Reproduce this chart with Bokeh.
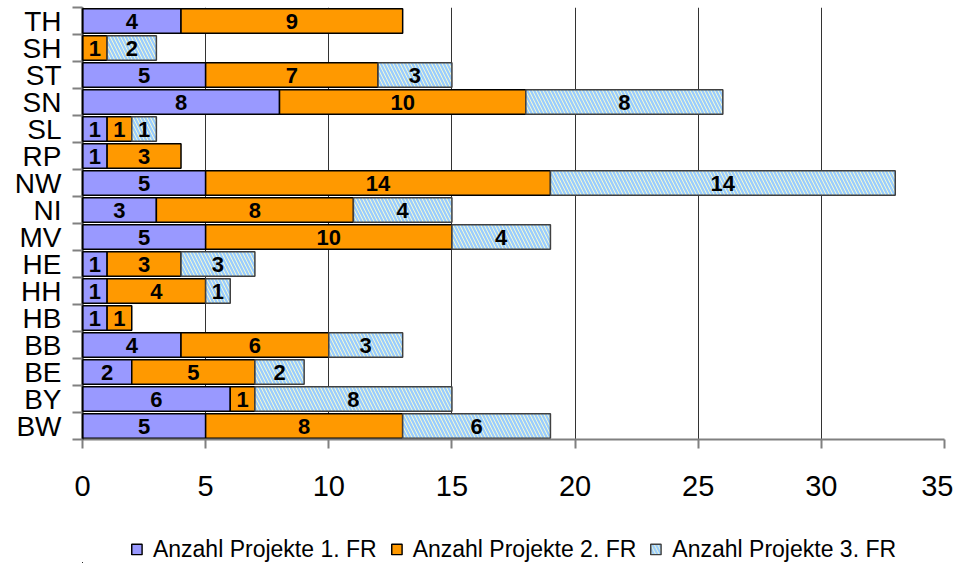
from bokeh.plotting import figure
from bokeh.layouts import column
from bokeh.models import (ColumnDataSource, Range1d, LinearAxis, FixedTicker, Legend, LegendItem)
from bokeh.core.properties import value
from bokeh.embed import file_html
from bokeh.resources import INLINE

# Data (bottom to top)
states = ["BW", "BY", "BE", "BB", "HB", "HH", "HE", "MV", "NI", "NW", "RP", "SL", "SN", "ST", "SH", "TH"]
fr1 = [5, 6, 2, 4, 1, 1, 1, 5, 3, 5, 1, 1, 8, 5, 0, 4]
fr2 = [8, 1, 5, 6, 1, 4, 3, 10, 8, 14, 3, 1, 10, 7, 1, 9]
fr3 = [6, 8, 2, 3, 0, 1, 3, 4, 4, 14, 0, 1, 8, 3, 2, 0]
series_names = ["Anzahl Projekte 1. FR", "Anzahl Projekte 2. FR", "Anzahl Projekte 3. FR"]
x_ticks = [0, 5, 10, 15, 20, 25, 30, 35]

FONT = "'Liberation Sans', Arial, sans-serif"
n = len(states)
centers_y = [i + 0.5 for i in range(n)]

p = figure(width=953, height=503, output_backend="svg", toolbar_location=None,
           y_range=Range1d(0, n), x_range=Range1d(0, 35),
           min_border_top=7, min_border_right=9, min_border_left=82, min_border_bottom=64)
p.outline_line_color = None
p.ygrid.grid_line_color = None
p.xgrid.ticker = FixedTicker(ticks=[5, 10, 15, 20, 25, 30])
p.xgrid.grid_line_color = "#333333"
p.xgrid.grid_line_width = 1

# default left axis: boundary tick marks
tick_axis = p.yaxis[0]
tick_axis.ticker = FixedTicker(ticks=list(range(n + 1)))
tick_axis.major_label_overrides = {i: "" for i in range(n + 1)}
tick_axis.axis_line_color = "#000000"
tick_axis.axis_line_width = 2
tick_axis.major_tick_line_color = "#808080"
tick_axis.major_tick_line_width = 2
tick_axis.major_tick_out = 10
tick_axis.major_tick_in = 0
tick_axis.minor_tick_line_color = None
tick_axis.major_label_standoff = 0

# second left axis: category labels
lab_axis = LinearAxis(ticker=FixedTicker(ticks=centers_y))
lab_axis.major_label_overrides = {c: s for c, s in zip(centers_y, states)}
lab_axis.axis_line_color = None
lab_axis.major_tick_line_color = None
lab_axis.minor_tick_line_color = None
lab_axis.major_tick_out = 0
lab_axis.major_tick_in = 0
lab_axis.major_label_standoff = 11
lab_axis.major_label_text_font = FONT
lab_axis.major_label_text_font_size = "28px"
lab_axis.major_label_text_color = "#000000"
p.add_layout(lab_axis, "left")

xaxis = p.xaxis[0]
xaxis.ticker = FixedTicker(ticks=x_ticks)
xaxis.axis_line_color = "#808080"
xaxis.axis_line_width = 2
xaxis.major_tick_line_color = "#808080"
xaxis.major_tick_line_width = 2
xaxis.major_tick_out = 9
xaxis.major_tick_in = 0
xaxis.minor_tick_line_color = None
xaxis.major_label_standoff = 27
xaxis.major_label_text_font = FONT
xaxis.major_label_text_font_size = "29px"
xaxis.major_label_text_color = "#000000"

# Bars
fills = ["#9999FF", "#FF9900", "#FFFFCC"]
lines = ["#000000", "#000000", "#404040"]
hatch = [None, None, "left_diagonal_line"]
sources = []
cum = [0] * n
for k, vals in enumerate([fr1, fr2, fr3]):
    ys, lefts, rights, centers, labels = [], [], [], [], []
    for i, v in enumerate(vals):
        if v > 0:
            ys.append(centers_y[i])
            lefts.append(cum[i])
            rights.append(cum[i] + v)
            centers.append(cum[i] + v / 2)
            labels.append(str(v))
        cum[i] += v
    src = ColumnDataSource(dict(y=ys, left=lefts, right=rights, xc=centers, lab=labels))
    sources.append(src)
    kw = dict(fill_color=fills[k], line_color=lines[k], line_width=1.5)
    if hatch[k]:
        kw.update(hatch_pattern=hatch[k], hatch_color="#99CCFF", hatch_scale=7, hatch_weight=2.3)
    p.hbar(y="y", left="left", right="right", height=0.9, source=src, **kw)
    p.text(x="xc", y="y", text="lab", source=src, text_align="center", text_baseline="middle",
           text_font=value("Liberation Sans"), text_font_style="bold", text_font_size="22px",
           text_color="#000000")

# Legend strip below the chart (its bar renderers lie off-canvas, outside the strip's ranges)
lg = figure(width=953, height=60, output_backend="svg", toolbar_location=None,
            x_range=Range1d(1000, 2000), y_range=Range1d(1000, 2000),
            min_border_top=32, min_border_right=9, min_border_left=82, min_border_bottom=0)
lg.axis.visible = False
lg.grid.visible = False
lg.outline_line_color = None
items = []
for k in range(3):
    kw = dict(fill_color=fills[k], line_color=lines[k], line_width=1.5)
    if hatch[k]:
        kw.update(hatch_pattern=hatch[k], hatch_color="#99CCFF", hatch_scale=7, hatch_weight=2.3)
    r = lg.hbar(y="y", left="left", right="right", height=0.9, source=sources[k], **kw)
    items.append(LegendItem(label=series_names[k], renderers=[r]))
legend = Legend(items=items, orientation="horizontal", location="center")
legend.label_text_font = FONT
legend.label_text_font_size = "23px"
legend.label_text_color = "#000000"
legend.glyph_width = 13
legend.glyph_height = 13
legend.label_standoff = 10
legend.spacing = 13
legend.padding = 0
legend.margin = 0
legend.border_line_color = None
legend.background_fill_color = None
lg.add_layout(legend, "center")

layout = column(p, lg, spacing=0)
open("out.html", "w").write(file_html(layout, INLINE))
